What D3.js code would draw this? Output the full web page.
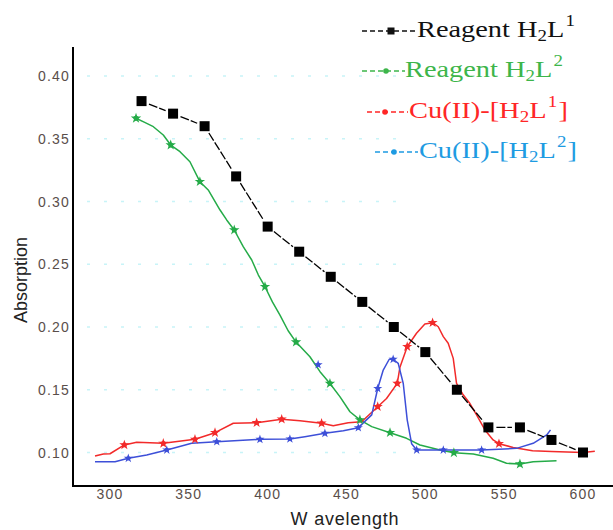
<!DOCTYPE html>
<html><head><meta charset="utf-8">
<script src="https://cdn.jsdelivr.net/npm/d3@7"></script>
<style>
html,body{margin:0;padding:0;background:#fff;}
svg{display:block;}
</style></head>
<body>
<svg id="chart" width="613" height="530"></svg>
<script>
// ---------------- data ----------------
const xTicks = [300, 350, 400, 450, 500, 550, 600];
const yTicks = [0.10, 0.15, 0.20, 0.25, 0.30, 0.35, 0.40];

// Reagent H2L1 (black squares)
const blackW = [320,340,360,380,400,420,440,460,480,500,520,540,560,580,600];
const blackV = [0.38,0.37,0.36,0.32,0.28,0.26,0.24,0.22,0.20,0.18,0.15,0.12,0.12,0.11,0.10];

// Reagent H2L2 (green curve)
const greenW = [316.5,322,327.5,333.8,338.5,344.4,350.7,357,362.3,369.8,374,378.8,384.5,389.9,394.1,398.3,403,407.8,413,418,426.8,433.2,439.5,445.8,452.2,458.5,466,477.6,488.1,496.6,509.3,518.1,530.4,543,551.5,560,568.4,583.2];
const greenV = [0.3663,0.363,0.3596,0.353,0.345,0.3397,0.3317,0.3158,0.3092,0.2932,0.2853,0.2773,0.264,0.2534,0.2414,0.2321,0.220,0.2095,0.197,0.188,0.1763,0.1644,0.155,0.1445,0.1325,0.126,0.1206,0.1158,0.1113,0.106,0.102,0.0998,0.0988,0.0954,0.0914,0.0908,0.0927,0.0935];
const greenMarkW = [316.5,338.5,357,378.8,398.3,418,439.5,458.5,477.6,518.1,560];
const greenMarkV = [0.3663,0.345,0.3158,0.2773,0.2321,0.188,0.155,0.126,0.1158,0.0998,0.0908];

// Cu(II)-[H2L1] (red curve)
const redW = [290.5,295.8,300,309.1,316.9,333.8,353.9,366.6,378.2,393,408.9,420.5,434.2,441.6,451.1,459.6,469.8,475.4,482.2,483.9,488.5,494.4,499.7,504.6,508.2,511.4,514.5,517.7,519.8,524,528.3,532.5,537.8,543,546.7,555.7,568,580,600,607.5];
const redV = [0.0972,0.0988,0.099,0.106,0.1081,0.1073,0.1105,0.1158,0.1233,0.1237,0.1265,0.1253,0.1233,0.1214,0.1237,0.1245,0.1365,0.143,0.1551,0.168,0.1843,0.195,0.2024,0.2034,0.2002,0.1923,0.187,0.175,0.155,0.146,0.139,0.130,0.118,0.110,0.107,0.104,0.1014,0.1008,0.100,0.101];
const redMarkW = [309.1,333.8,353.9,366.6,393,408.9,434.2,469.8,482.2,488.5,504.6,546.7];
const redMarkV = [0.106,0.1073,0.1105,0.1158,0.1237,0.1265,0.1233,0.1365,0.1551,0.1843,0.2034,0.107];

// Cu(II)-[H2L2] (blue curve)
const blueW = [290.5,303.2,311.6,323.3,336,351.8,367.7,395.1,414.1,423.6,436.3,448,457.5,466,469.8,473.3,477.1,479.6,482.8,486,488.5,491.3,494.5,511.4,535.7,557.9,568.4,577,579.4];
const blueV = [0.0927,0.0927,0.0954,0.098,0.102,0.1073,0.1086,0.1105,0.1108,0.1126,0.1153,0.1174,0.1198,0.130,0.151,0.1657,0.1743,0.1743,0.171,0.155,0.126,0.107,0.102,0.102,0.102,0.1033,0.1073,0.114,0.118];
const blueMarkW = [311.6,336,367.7,395.1,414.1,436.3,457.5,469.8,479.6,494.5,511.4,535.7,432];
const blueMarkV = [0.0954,0.102,0.1086,0.1105,0.1108,0.1153,0.1198,0.151,0.1743,0.102,0.102,0.102,0.170];

const legendLabels = [
  {pre:"Reagent H", sub:"2", mid:"L", sup:"1", post:""},
  {pre:"Reagent H", sub:"2", mid:"L", sup:"2", post:""},
  {pre:"Cu(II)-[H", sub:"2", mid:"L", sup:"1", post:"]"},
  {pre:"Cu(II)-[H", sub:"2", mid:"L", sup:"2", post:"]"}
];
const yTitle = "Absorption";
const xTitle = "W avelength";

// ---------------- layout ----------------
const svg = d3.select("#chart");
const x = d3.scaleLinear().domain([300, 600]).range([110, 583]);
const y = d3.scaleLinear().domain([0.10, 0.40]).range([452.5, 76]);
const axisX0 = 73, axisY0 = 486, axisTop = 47, axisRight = 613;

const COL = {black:"#000", green:"#25ab48", red:"#f22a2a", blue:"#3d4fd8"};
const LEGCOL = ["#111", "#3db54a", "#ff2626", "#1e9be2"];

// faint gridline speckles
const grid = svg.append("g");
yTicks.forEach(t => {
  grid.append("line")
    .attr("x1", axisX0 + 14).attr("x2", 400)
    .attr("y1", y(t)).attr("y2", y(t))
    .attr("stroke", "#c8f4f8").attr("stroke-width", 1.5)
    .attr("stroke-dasharray", "3,14");
});

// axes lines
svg.append("line").attr("x1", axisX0).attr("x2", axisX0).attr("y1", axisTop).attr("y2", axisY0)
  .attr("stroke", "#000").attr("stroke-width", 2);
svg.append("line").attr("x1", axisX0 - 1).attr("x2", axisRight).attr("y1", axisY0).attr("y2", axisY0)
  .attr("stroke", "#000").attr("stroke-width", 2);

// y tick labels
svg.append("g").selectAll("text").data(yTicks).join("text")
  .attr("x", axisX0 - 3).attr("y", d => y(d)).attr("dy", "0.36em")
  .attr("text-anchor", "end")
  .attr("font-family", "Liberation Sans, Arial, sans-serif")
  .attr("font-size", 14).attr("letter-spacing", 1.2)
  .attr("fill", "#5a4e4a")
  .text(d => d3.format(".2f")(d));

// x tick labels
svg.append("g").selectAll("text").data(xTicks).join("text")
  .attr("x", d => x(d)).attr("y", 499)
  .attr("text-anchor", "middle")
  .attr("font-family", "Liberation Sans, Arial, sans-serif")
  .attr("font-size", 14).attr("letter-spacing", 1.2)
  .attr("fill", "#5a4e4a")
  .text(d => d);

// axis titles
svg.append("text")
  .attr("transform", `translate(27,${280}) rotate(-90)`)
  .attr("text-anchor", "middle")
  .attr("font-family", "Liberation Sans, Arial, sans-serif")
  .attr("font-size", 18).attr("fill", "#222")
  .text(yTitle);
svg.append("text")
  .attr("x", 345).attr("y", 525)
  .attr("text-anchor", "middle")
  .attr("font-family", "Liberation Sans, Arial, sans-serif")
  .attr("font-size", 18).attr("letter-spacing", 0.8).attr("fill", "#222")
  .text(xTitle);

// ---------------- series ----------------
const line = d3.line().x(d => x(d[0])).y(d => y(d[1])).curve(d3.curveLinear);
const zip = (a, b) => a.map((v, i) => [v, b[i]]);

function drawCurve(W, V, color) {
  svg.append("path").datum(zip(W, V))
    .attr("d", line).attr("fill", "none")
    .attr("stroke", color).attr("stroke-width", 1.5)
    .attr("stroke-linejoin", "round");
}
function drawMarks(W, V, color, size) {
  const g = svg.append("g");
  g.selectAll("circle").data(zip(W, V)).join("circle")
    .attr("cx", d => x(d[0])).attr("cy", d => y(d[1]))
    .attr("r", Math.sqrt(size) / 2.4).attr("fill", color);
  g.selectAll("path").data(zip(W, V)).join("path")
    .attr("transform", d => `translate(${x(d[0])},${y(d[1])})`)
    .attr("d", d3.symbol().type(d3.symbolStar).size(size))
    .attr("fill", color);
}

drawCurve(greenW, greenV, COL.green);
drawCurve(redW, redV, COL.red);
drawCurve(blueW, blueV, COL.blue);
drawMarks(greenMarkW, greenMarkV, COL.green, 34);
drawMarks(redMarkW, redMarkV, COL.red, 32);
drawMarks(blueMarkW, blueMarkV, COL.blue, 26);

// black series: segments with gaps near markers
const bpts = zip(blackW, blackV).map(d => [x(d[0]), y(d[1])]);
const segs = [];
for (let i = 0; i < bpts.length - 1; i++) {
  const [x1, y1] = bpts[i], [x2, y2] = bpts[i + 1];
  const L = Math.hypot(x2 - x1, y2 - y1), g = 8;
  segs.push([x1 + (x2 - x1) * g / L, y1 + (y2 - y1) * g / L,
             x2 - (x2 - x1) * g / L, y2 - (y2 - y1) * g / L]);
}
svg.append("g").selectAll("line").data(segs).join("line")
  .attr("x1", d => d[0]).attr("y1", d => d[1]).attr("x2", d => d[2]).attr("y2", d => d[3])
  .attr("stroke", "#000").attr("stroke-width", 1.3).attr("stroke-dasharray", "9,2");
svg.append("g").selectAll("rect").data(bpts).join("rect")
  .attr("x", d => d[0] - 5).attr("y", d => d[1] - 5)
  .attr("width", 10).attr("height", 10).attr("fill", "#000");

// ---------------- legend ----------------
const legPos = [
  {s0: 362, s1: 416, m: 391, tx: 417, by: 37, w: 158},
  {s0: 362, s1: 405, m: 386, tx: 405, by: 77, w: 158},
  {s0: 367, s1: 408, m: 385, tx: 409, by: 118, w: 159},
  {s0: 375, s1: 418, m: 394, tx: 419, by: 158, w: 158}
];
const leg = svg.append("g");
legendLabels.forEach((lab, i) => {
  const p = legPos[i], c = LEGCOL[i];
  const ly = p.by - 6;
  leg.append("line").attr("x1", p.s0).attr("x2", p.s1).attr("y1", ly).attr("y2", ly)
    .attr("stroke", c).attr("stroke-width", 1.6).attr("stroke-dasharray", "5,3");
  if (i === 0) {
    leg.append("rect").attr("x", p.m - 3.5).attr("y", ly - 3.5).attr("width", 7).attr("height", 7).attr("fill", c);
  } else {
    leg.append("circle").attr("cx", p.m).attr("cy", ly).attr("r", 2.8).attr("fill", c);
  }
  const t = leg.append("text")
    .attr("font-family", "Liberation Serif, 'Times New Roman', serif")
    .attr("font-size", 24).attr("fill", c);
  t.append("tspan").text(lab.pre);
  t.append("tspan").attr("font-size", 16).attr("dy", 4).text(lab.sub);
  t.append("tspan").attr("dy", -4).text(lab.mid);
  t.append("tspan").attr("font-size", 16).attr("dy", -11).attr("dx", 1).text(lab.sup);
  if (lab.post) t.append("tspan").attr("dy", 11).attr("dx", 1).text(lab.post);
  const bw = t.node().getBBox().width;
  t.attr("transform", `translate(${p.tx},${p.by}) scale(${p.w / bw},1)`);
});
</script>
</body></html>
